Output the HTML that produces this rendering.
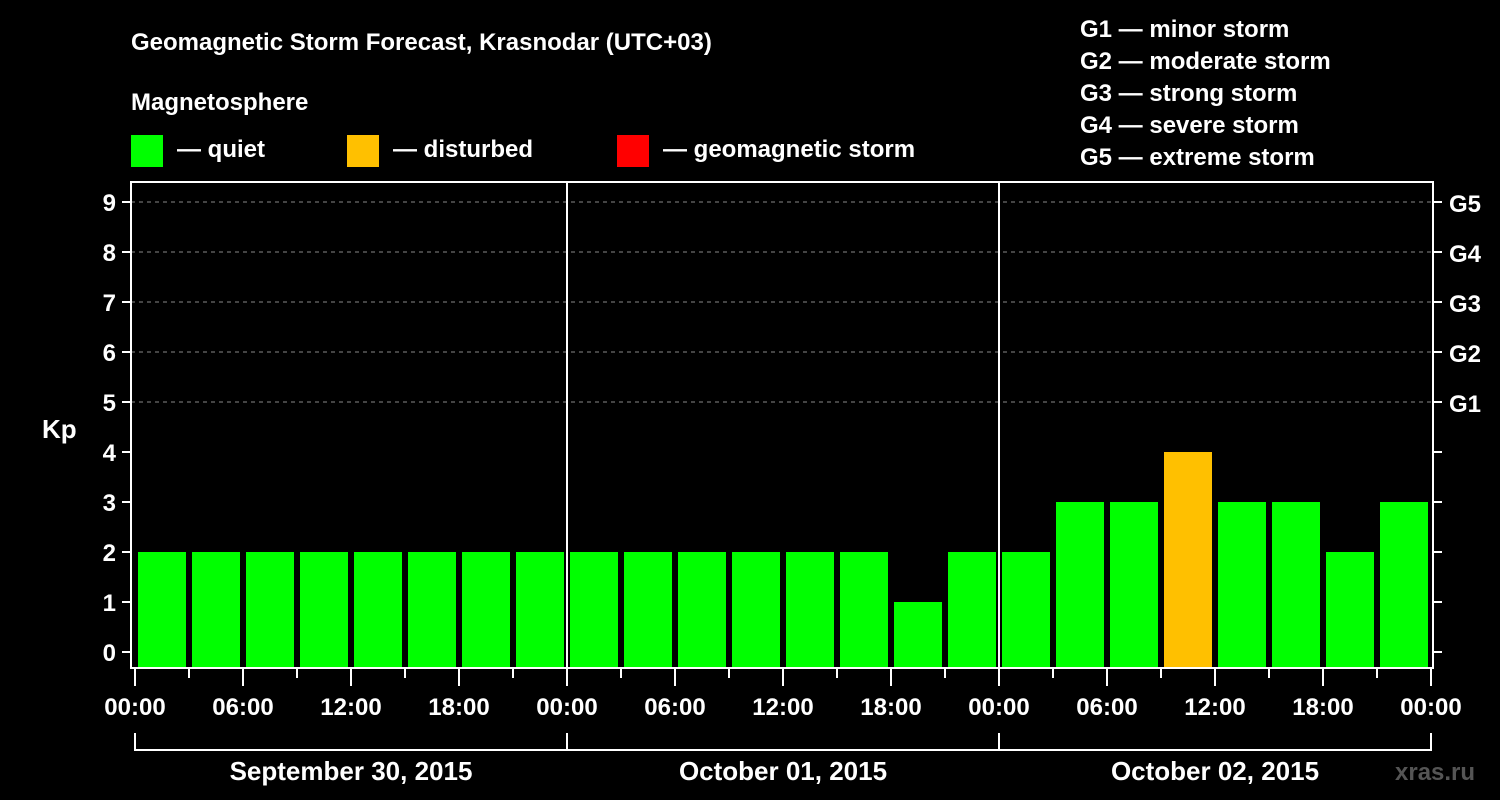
<!DOCTYPE html>
<html><head><meta charset="utf-8"><style>
body{margin:0;background:#000;width:1500px;height:800px;overflow:hidden}
svg{display:block;font-family:"Liberation Sans",sans-serif;font-weight:bold;fill:#fff}
</style></head><body>
<svg id="c" width="1500" height="800">
<text x="131" y="50" font-size="24">Geomagnetic Storm Forecast, Krasnodar (UTC+03)</text>
<text x="131" y="110" font-size="24">Magnetosphere</text>
<rect x="131" y="135" width="32" height="32" fill="#00ff00"/>
<text x="177" y="157" font-size="24">— quiet</text>
<rect x="347" y="135" width="32" height="32" fill="#ffc000"/>
<text x="393" y="157" font-size="24">— disturbed</text>
<rect x="617" y="135" width="32" height="32" fill="#ff0000"/>
<text x="663" y="157" font-size="24">— geomagnetic storm</text>
<g font-size="24">
<text x="1080" y="37">G1 — minor storm</text>
<text x="1080" y="69">G2 — moderate storm</text>
<text x="1080" y="101">G3 — strong storm</text>
<text x="1080" y="133">G4 — severe storm</text>
<text x="1080" y="165">G5 — extreme storm</text>
</g>
<text x="42" y="438" font-size="26">Kp</text>
<text x="1395" y="780" font-size="24" fill="#555" style="fill:#555">xras.ru</text>
<g id="g"></g>
</svg>
<script>
const kpValues=[2,2,2,2,2,2,2,2, 2,2,2,2,2,2,1,2, 2,3,3,4,3,3,2,3];
const yTicks=[0,1,2,3,4,5,6,7,8,9];
const gLabels=["G1","G2","G3","G4","G5"];
const xTickLabels=["00:00","06:00","12:00","18:00","00:00","06:00","12:00","18:00","00:00","06:00","12:00","18:00","00:00"];
const dayLabels=["September 30, 2015","October 01, 2015","October 02, 2015"];
const NS="http://www.w3.org/2000/svg",g=document.getElementById("g");
const X0=135,SLOT=54,L=131,R=1433,T=182,B=668;
const xs=i=>X0+i*SLOT, ys=v=>652-v*50;
function el(t,a){const e=document.createElementNS(NS,t);for(const k in a)e.setAttribute(k,a[k]);g.appendChild(e);return e;}
yTicks.forEach(v=>{
 if(v>=5){const l=el("line",{x1:L,x2:R,y1:ys(v),y2:ys(v),stroke:"#888","stroke-dasharray":"4,4"});
 
 }
 const t=el("line",{x1:L-9,x2:L,y1:ys(v),y2:ys(v),stroke:"#fff","stroke-width":2});
 
 
 const t2=el("line",{x1:R,x2:R+9,y1:ys(v),y2:ys(v),stroke:"#fff","stroke-width":2});
 
 
 const tx=el("text",{x:L-15,y:ys(v)+9,"font-size":24,"text-anchor":"end"});tx.textContent=v;
 
 
});
gLabels.forEach((s,i)=>{const tx=el("text",{x:1449,y:ys(5+i)+10,"font-size":24});tx.textContent=s;
 
 });
kpValues.forEach((v,i)=>{
 const c=v>=5?"#ff0000":v>=4?"#ffc000":"#00ff00";
 const r=el("rect",{x:xs(i)+3,y:ys(v),width:SLOT-6,height:B-ys(v),fill:c});
 
 
});
[1,2].forEach(d=>{const l=el("line",{x1:xs(d*8),x2:xs(d*8),y1:T,y2:B,stroke:"#fff","stroke-width":2});
 
 });
const f=el("rect",{x:L,y:T,width:R-L,height:B-T,fill:"none",stroke:"#fff","stroke-width":2});


for(let i=0;i<=24;i++){const l=el("line",{x1:xs(i),x2:xs(i),y1:B,y2:i%2?678:686,stroke:"#fff","stroke-width":2});
 
 }
xTickLabels.forEach((s,i)=>{const tx=el("text",{x:xs(i*2),y:715,"font-size":24,"text-anchor":"middle"});tx.textContent=s;
 
 });
dayLabels.forEach((s,d)=>{
 const p=el("path",{d:`M${xs(d*8)},733V750H${xs(d*8+8)}V733`,fill:"none",stroke:"#fff","stroke-width":2});
 
 
 const tx=el("text",{x:(xs(d*8)+xs(d*8+8))/2,y:780,"font-size":26,"text-anchor":"middle"});tx.textContent=s;
 
 
});
</script>
</body></html>
